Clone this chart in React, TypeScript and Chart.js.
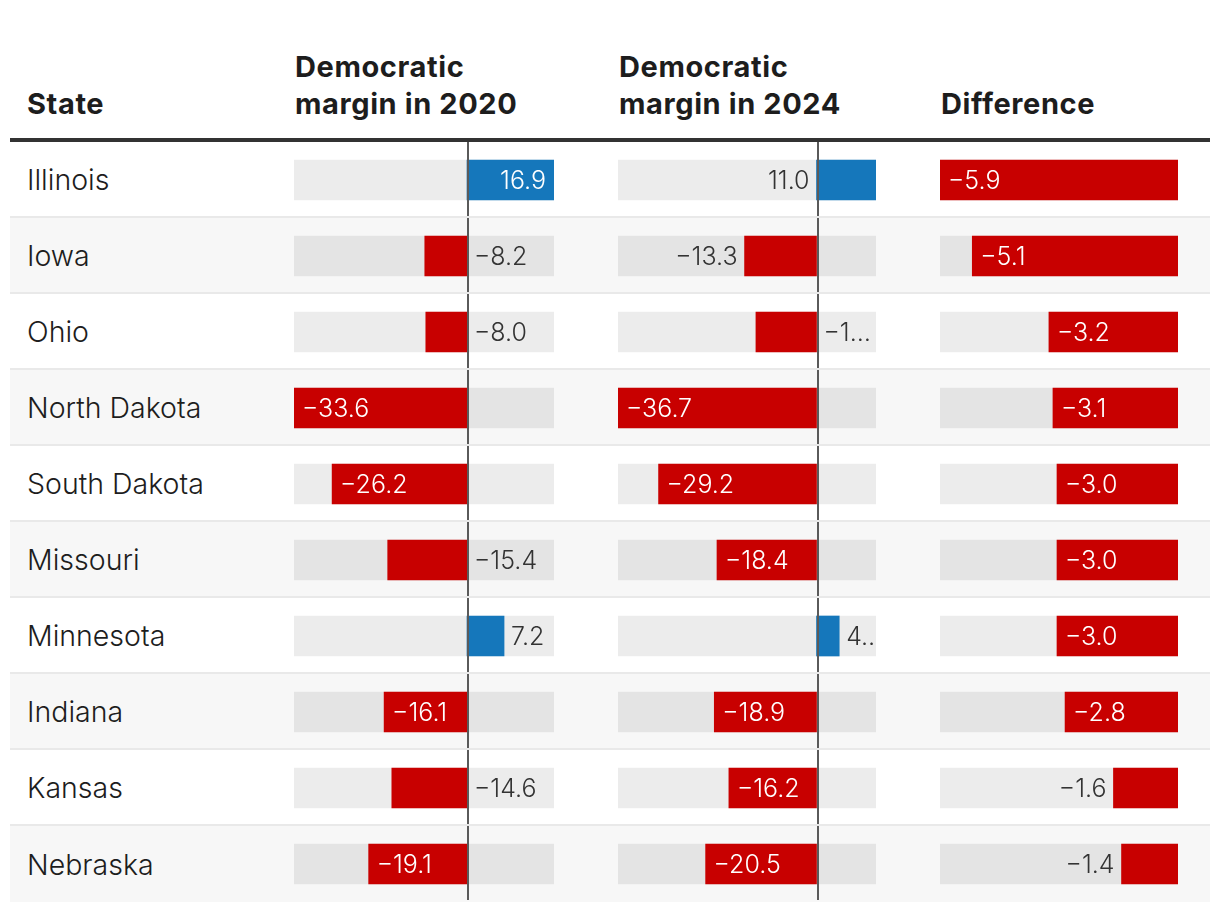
import React, { useEffect, useRef } from "react";
import { Chart, registerables } from "chart.js";

Chart.register(...registerables);

const states = [
  "Illinois",
  "Iowa",
  "Ohio",
  "North Dakota",
  "South Dakota",
  "Missouri",
  "Minnesota",
  "Indiana",
  "Kansas",
  "Nebraska",
];
const margin2020 = [16.9, -8.2, -8.0, -33.6, -26.2, -15.4, 7.2, -16.1, -14.6, -19.1];
const margin2024 = [11.0, -13.3, -11.2, -36.7, -29.2, -18.4, 4.2, -18.9, -16.2, -20.5];
const difference = [-5.9, -5.1, -3.2, -3.1, -3.0, -3.0, -3.0, -2.8, -1.6, -1.4];
// outside labels that sit on the far side of the bar rather than past zero
const outsideLeft2024 = ["Iowa"];
const headerState = "State";
const header2020 = ["Democratic", "margin in 2020"];
const header2024 = ["Democratic", "margin in 2024"];
const headerDiff = "Difference";

const BLUE = "#1577bb";
const RED = "#c80000";
const TRACK = "rgba(0,0,0,0.075)";
const FONT = "Inter, 'Noto Sans', sans-serif";
const ROW_H = 76;
const TABLE_TOP = 142;

function fmt(v: number) {
  return (v < 0 ? "\u2212" : "") + Math.abs(v).toFixed(1);
}

function BarColumn(props: {
  values: number[];
  left: number;
  width: number;
  zeroLine: boolean;
  forceLeft?: string[];
}) {
  const { values, left, width, zeroLine } = props;
  const forceLeft = props.forceLeft || [];
  const ref = useRef<HTMLCanvasElement>(null);
  useEffect(() => {
    if (!ref.current) return;
    const min = Math.min(0, ...values);
    const max = Math.max(0, ...values);
    const labelPlugin = {
      id: "cellLabels",
      afterDatasetsDraw(chart: any) {
        const ctx = chart.ctx as CanvasRenderingContext2D;
        const xs = chart.scales.x;
        const ys = chart.scales.y;
        const area = chart.chartArea;
        const n = values.length;
        const band = (area.bottom - area.top) / n;
        ctx.save();
        if (zeroLine) {
          const zx = xs.getPixelForValue(0);
          ctx.fillStyle = "#5a5a5a";
          for (let i = 0; i < n; i++) {
            const top = area.top + i * band;
            ctx.fillRect(Math.round(zx), top, 2, band - 2);
          }
        }
        ctx.font = `300 25px ${FONT}`;
        ctx.textBaseline = "middle";
        const pad = 7;
        values.forEach((v, i) => {
          const text = fmt(v);
          const cy = ys.getPixelForValue(i) + 1;
          const x0 = xs.getPixelForValue(0);
          const xv = xs.getPixelForValue(v);
          const barL = Math.min(x0, xv);
          const barR = Math.max(x0, xv);
          const barW = barR - barL;
          const tw = ctx.measureText(text).width;
          if (barW >= tw + 22) {
            ctx.fillStyle = "#ffffff";
            if (v >= 0) {
              ctx.textAlign = "right";
              ctx.fillText(text, barR - 8, cy);
            } else {
              ctx.textAlign = "left";
              ctx.fillText(text, barL + 8, cy);
            }
            return;
          }
          ctx.fillStyle = "#333333";
          const avail = area.right - (barR + pad);
          if (tw * 0.6 <= avail && forceLeft.indexOf(states[i]) < 0) {
            let t = text;
            if (ctx.measureText(t).width > avail) {
              let k = text.length - 1;
              while (k > 1 && ctx.measureText(text.slice(0, k) + "\u2026").width > avail) k--;
              t = text.slice(0, k) + "\u2026";
            }
            ctx.textAlign = "left";
            ctx.fillText(t, barR + pad, cy);
          } else {
            ctx.textAlign = "right";
            ctx.fillText(text, barL - pad, cy);
          }
        });
        ctx.restore();
      },
    };
    const chart = new Chart(ref.current, {
      type: "bar",
      data: {
        labels: states,
        datasets: [
          {
            data: values,
            backgroundColor: values.map((v) => (v >= 0 ? BLUE : RED)),
            borderWidth: 0,
            grouped: false,
            barThickness: 40,
            order: 0,
          } as any,
          {
            data: values.map(() => [min, max]),
            backgroundColor: TRACK,
            borderWidth: 0,
            grouped: false,
            barThickness: 40,
            order: 1,
          } as any,
        ],
      },
      options: {
        indexAxis: "y",
        responsive: false,
        maintainAspectRatio: false,
        animation: false,
        events: [],
        layout: { padding: 0 },
        plugins: { legend: { display: false }, tooltip: { enabled: false } },
        scales: {
          x: { type: "linear", min, max, display: false },
          y: { type: "category", display: false },
        },
      },
      plugins: [labelPlugin],
    });
    return () => chart.destroy();
  }, []);
  return (
    <canvas
      ref={ref}
      width={width}
      height={ROW_H * states.length}
      style={{ position: "absolute", left, top: TABLE_TOP, width, height: ROW_H * states.length }}
    />
  );
}

const headStyle: React.CSSProperties = {
  position: "absolute",
  font: `700 29px/37px ${FONT}`,
  letterSpacing: "0.6px",
  color: "#1d1d1d",
  whiteSpace: "nowrap",
};

export default function App() {
  return (
    <div
      style={{
        position: "absolute",
        left: 0,
        top: 0,
        width: 1220,
        height: 910,
        background: "#ffffff",
        fontFamily: FONT,
        overflow: "hidden",
      }}
    >
      <div style={{ ...headStyle, left: 27, top: 85 }}>{headerState}</div>
      <div style={{ ...headStyle, left: 295, top: 48 }}>
        {header2020[0]}
        <br />
        {header2020[1]}
      </div>
      <div style={{ ...headStyle, left: 619, top: 48 }}>
        {header2024[0]}
        <br />
        {header2024[1]}
      </div>
      <div style={{ ...headStyle, left: 941, top: 85 }}>{headerDiff}</div>
      <div style={{ position: "absolute", left: 10, top: 138, width: 1200, height: 4, background: "#333333" }} />
      {states.map((s, i) => (
        <div
          key={s}
          style={{
            position: "absolute",
            left: 10,
            top: TABLE_TOP + i * ROW_H,
            width: 1200,
            height: ROW_H,
            background: i % 2 === 1 ? "#f7f7f7" : "#ffffff",
            borderBottom: i < states.length - 1 ? "2px solid #e9e9e9" : "none",
            boxSizing: "border-box",
            display: "flex",
            alignItems: "center",
            paddingLeft: 17,
            font: `300 28.5px ${FONT}`,
            color: "#1d1d1d",
          }}
        >
          {s}
        </div>
      ))}
      <BarColumn values={margin2020} left={294} width={260} zeroLine={true} />
      <BarColumn values={margin2024} left={618} width={258} zeroLine={true} forceLeft={outsideLeft2024} />
      <BarColumn values={difference} left={940} width={238} zeroLine={false} />
    </div>
  );
}
